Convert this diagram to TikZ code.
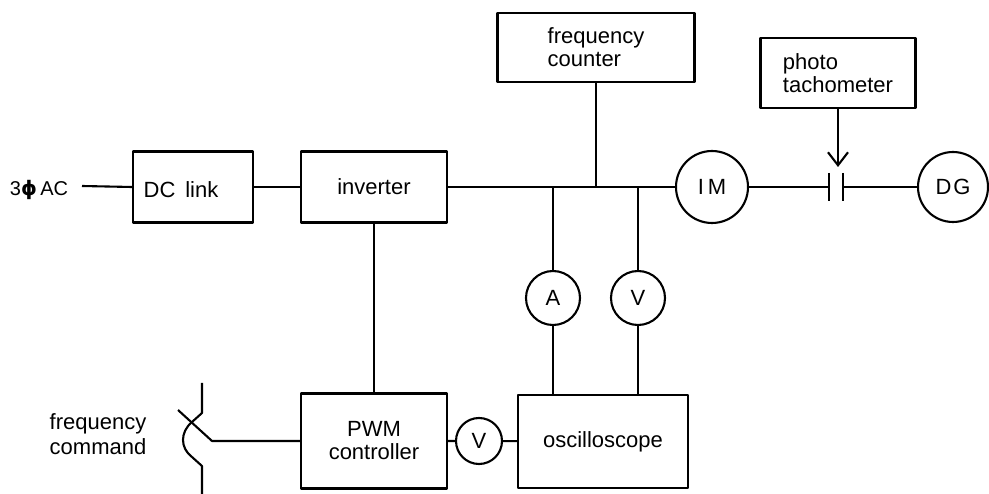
\documentclass[tikz,border=0pt]{standalone}
\usepackage{fontspec}
\setmainfont{Liberation Sans}
\newfontfamily\phifont{DejaVu Sans}
\usepackage{tikz}
\usetikzlibrary{arrows.meta, positioning, calc}

\begin{document}
\begin{tikzpicture}[
    x=1pt, y=-1pt,
    line width=2.1pt, line join=round,
    blk/.style={rectangle, draw, inner sep=0pt, align=center, font=\fontsize{22}{23}\selectfont},
    meter/.style={circle, draw, minimum size=#1, inner sep=0pt, font=\fontsize{22}{23}\selectfont},
    lbl/.style={inner sep=0pt, align=center, font=\fontsize{22}{25}\selectfont},
    arrow/.style={-{Straight Barb[length=13pt, width=20pt]}}
]
\useasboundingbox (0,0) rectangle (989,494);

% ---- Power path ----
\node[lbl, font=\fontsize{20}{22}\selectfont] (ac) at (39,190) {3{\phifont\bfseries ϕ}\,AC};
\coordinate (acend) at (82,186);
\node[blk, minimum width=120pt, minimum height=71pt] (dclink) at (193,187) {};
\node[lbl] (dclinktxt) at ([shift={(-12,3)}]dclink.center) {DC\, link};
\node[blk, minimum width=146pt, minimum height=71pt] (inverter) at (374,187) {inverter};

% ---- Machines ----
\node[meter=72pt] (im) at (712,187) {I\hspace{4pt}M};
\node[meter=70pt] (dg) at (953,187) {D\hspace{2pt}G};
\coordinate (cplL) at (829,187);
\coordinate (cplR) at (843,187);
\coordinate (cpltop) at (836,167);

% ---- Instruments ----
\node[blk, minimum width=197pt, minimum height=69pt, align=left] (freqcount) at (596,47.5) {frequency\\counter};
\node[blk, minimum width=155pt, minimum height=70pt, align=left] (phototach) at (838,73) {photo\\tachometer};
\node[meter=54pt] (amm) at (553,298) {A};
\node[meter=54pt] (vm1) at (638,298) {V};
\node[blk, minimum width=146pt, minimum height=95pt] (pwm) at (374,441) {PWM\\controller};
\node[meter=46pt] (vm2) at (479,441) {V};
\node[blk, minimum width=170pt, minimum height=93pt] (osc) at (603,441.5) {oscilloscope};

% ---- Frequency command switch ----
\node[lbl] (fcmd) at (98,434) {frequency\\command};
\coordinate (swtop) at (202,383);
\coordinate (swbot) at (202,494);
\coordinate (swlever) at (178,410);

% ---- Connecting lines ----
\draw (acend) -- (dclink.west);
\draw (dclink) -- (inverter);
\draw (inverter) -- (im);
\draw (inverter) -- (pwm);
\draw (freqcount.south) -- (freqcount.south |- im.west);
\foreach \m in {amm,vm1} {
    \draw (\m.north) -- (\m |- im.west);
    \draw (\m.south) -- (\m |- osc.north);
}
\draw (pwm) -- (vm2) -- (osc);

% Shaft and coupling
\draw (im) -- (cplL);
\draw ([yshift=14pt]cplL) -- ([yshift=-14pt]cplL);
\draw ([yshift=14pt]cplR) -- ([yshift=-14pt]cplR);
\draw (cplR) -- (dg);
\draw[arrow] (phototach.south) -- (phototach.south |- cpltop);

% Switch
\draw (swtop) -- (202,413) -- (192,422) .. controls (180,432) and (180,448) .. (192,457) -- (202,466) -- (swbot);
\draw (swlever) -- (212,441) -- (pwm.west);

\end{tikzpicture}
\end{document}
